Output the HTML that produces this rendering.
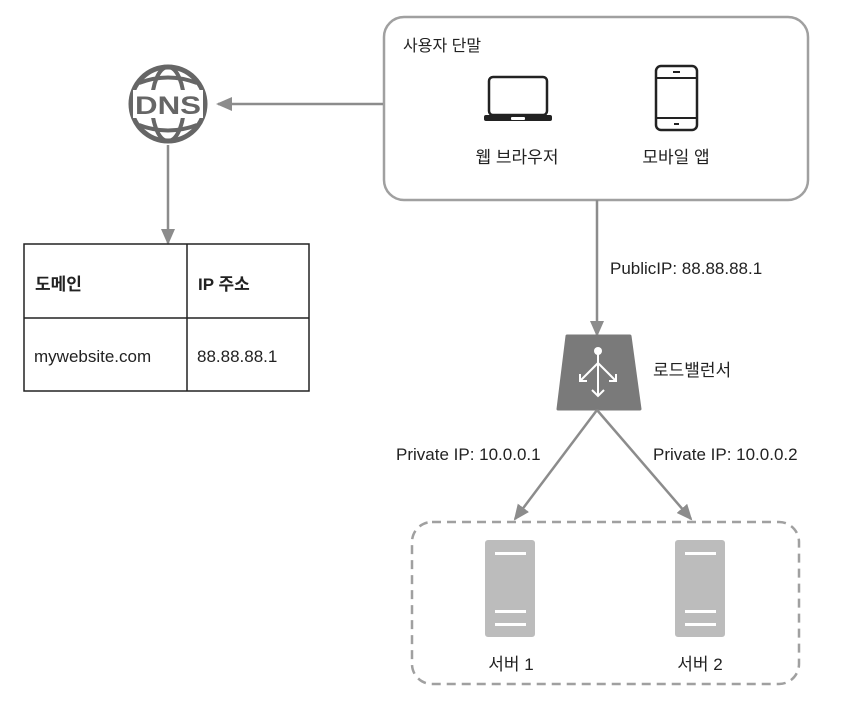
<!DOCTYPE html>
<html><head><meta charset="utf-8"><style>
html,body{margin:0;padding:0;background:#fff;}
svg{display:block;}
text{font-family:"Liberation Sans","Noto Sans CJK KR",sans-serif;}
</style></head><body>
<svg width="842" height="702" viewBox="0 0 842 702" xmlns="http://www.w3.org/2000/svg" font-size="16" fill="#222">
<defs>
<marker id="ah" markerWidth="16" markerHeight="14" refX="14" refY="7" orient="auto" markerUnits="userSpaceOnUse" viewBox="0 0 16 14">
<path d="M0,0 L16,7 L0,14 z" fill="#8c8c8c"/></marker>
</defs>
<!-- user box -->
<rect x="384" y="17" width="424" height="183" rx="20" fill="none" stroke="#a0a0a0" stroke-width="2.5"/>
<text x="403" y="51" font-size="16">사용자 단말</text>
<!-- laptop -->
<rect x="489" y="77" width="58" height="38" rx="4" fill="none" stroke="#222" stroke-width="2.5"/>
<rect x="484" y="115" width="68" height="6" rx="2" fill="#222"/>
<rect x="511" y="117" width="14" height="3" rx="1" fill="#fff"/>
<text x="517" y="163" text-anchor="middle" font-size="17">웹 브라우저</text>
<!-- phone -->
<rect x="656" y="66" width="41" height="64" rx="5" fill="none" stroke="#222" stroke-width="2.5"/>
<line x1="656" y1="78" x2="697" y2="78" stroke="#222" stroke-width="2"/>
<line x1="656" y1="118" x2="697" y2="118" stroke="#222" stroke-width="2"/>
<line x1="673" y1="72" x2="680" y2="72" stroke="#222" stroke-width="2"/>
<line x1="674" y1="124" x2="679" y2="124" stroke="#222" stroke-width="2"/>
<text x="676" y="163" text-anchor="middle" font-size="17">모바일 앱</text>
<!-- arrow to DNS -->
<line x1="383" y1="104" x2="218" y2="104" stroke="#8c8c8c" stroke-width="2.5" marker-end="url(#ah)"/>
<!-- DNS globe -->
<g stroke="#666" stroke-width="5" fill="none">
<circle cx="168" cy="104" r="37"/>
<ellipse cx="168" cy="104" rx="16" ry="37" stroke-width="4"/>
<path d="M139,83 Q168,72 197,83" stroke-width="4"/>
<path d="M139,125 Q168,136 197,125" stroke-width="4"/>
</g>
<rect x="133" y="90" width="70" height="28" fill="#fff"/>
<text x="168" y="114" text-anchor="middle" font-size="25" font-weight="bold" fill="#666" textLength="66" lengthAdjust="spacingAndGlyphs">DNS</text>
<!-- arrow down to table -->
<line x1="168" y1="145" x2="168" y2="243" stroke="#8c8c8c" stroke-width="2.5" marker-end="url(#ah)"/>
<!-- table -->
<rect x="24" y="244" width="285" height="147" fill="none" stroke="#222" stroke-width="1.5"/>
<line x1="187" y1="244" x2="187" y2="391" stroke="#222" stroke-width="1.5"/>
<line x1="24" y1="318" x2="309" y2="318" stroke="#222" stroke-width="1.5"/>
<text x="35" y="290" font-weight="bold" font-size="17">도메인</text>
<text x="198" y="290" font-weight="bold" font-size="17">IP 주소</text>
<text x="34" y="362" font-size="17">mywebsite.com</text>
<text x="197" y="362" font-size="17">88.88.88.1</text>
<!-- public arrow -->
<line x1="597" y1="200" x2="597" y2="335" stroke="#8c8c8c" stroke-width="2.5" marker-end="url(#ah)"/>
<text x="610" y="274" font-size="17">PublicIP: 88.88.88.1</text>
<!-- LB -->
<path d="M567,336 L630,336 L640,409 L558,409 Z" fill="#7a7a7a" stroke="#7a7a7a" stroke-width="3" stroke-linejoin="round"/>
<g stroke="#fff" stroke-width="2" fill="none">
<line x1="598" y1="352" x2="598" y2="396"/>
<line x1="598" y1="363" x2="580" y2="381"/>
<line x1="598" y1="363" x2="616" y2="381"/>
<path d="M580,374 L580,381 L587,381"/>
<path d="M616,374 L616,381 L609,381"/>
<path d="M592,390 L598,396 L604,390"/>
</g>
<circle cx="598" cy="351" r="4" fill="#fff"/>
<text x="653" y="376" font-size="17">로드밸런서</text>
<!-- private arrows -->
<line x1="597" y1="410" x2="515" y2="519" stroke="#8c8c8c" stroke-width="2.5" marker-end="url(#ah)"/>
<line x1="597" y1="410" x2="691" y2="519" stroke="#8c8c8c" stroke-width="2.5" marker-end="url(#ah)"/>
<text x="396" y="460" font-size="17">Private IP: 10.0.0.1</text>
<text x="653" y="460" font-size="17">Private IP: 10.0.0.2</text>
<!-- dashed box -->
<rect x="412" y="522" width="387" height="162" rx="20" fill="none" stroke="#a0a0a0" stroke-width="2.5" stroke-dasharray="9,6"/>
<!-- servers -->
<g>
<rect x="485" y="540" width="50" height="97" rx="3" fill="#bcbcbc"/>
<rect x="495" y="552" width="31" height="3" fill="#fff"/>
<rect x="495" y="610" width="31" height="3" fill="#fff"/>
<rect x="495" y="623" width="31" height="3" fill="#fff"/>
<rect x="675" y="540" width="50" height="97" rx="3" fill="#bcbcbc"/>
<rect x="685" y="552" width="31" height="3" fill="#fff"/>
<rect x="685" y="610" width="31" height="3" fill="#fff"/>
<rect x="685" y="623" width="31" height="3" fill="#fff"/>
</g>
<text x="511" y="670" text-anchor="middle" font-size="17">서버 1</text>
<text x="700" y="670" text-anchor="middle" font-size="17">서버 2</text>
</svg>
</body></html>
